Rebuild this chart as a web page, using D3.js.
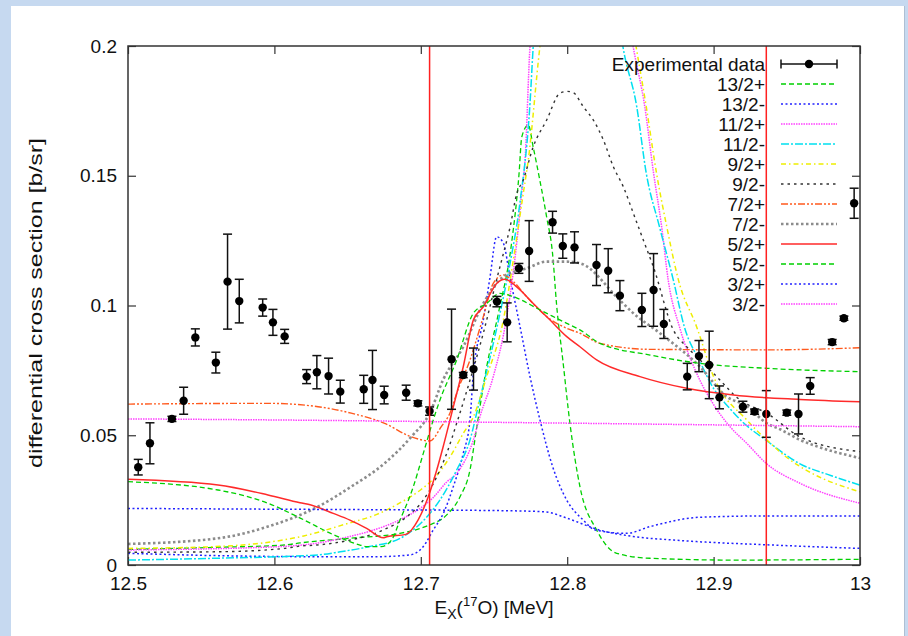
<!DOCTYPE html>
<html>
<head>
<meta charset="utf-8">
<script src="https://cdn.jsdelivr.net/npm/d3@7"></script>
<style>
  body { margin: 0; background: #c6d9f0; }
  text { font-family: "Liberation Sans", Arial, Helvetica, sans-serif; fill: #111; }
</style>
</head>
<body>
<div id="chart"></div>
<script>
const svgWidth = 908;
const svgHeight = 636;
const plot = {left: 128, right: 860, top: 46, bottom: 565};

// tick values
const xTicks = [12.5, 12.6, 12.7, 12.8, 12.9, 13];
const yTicks = [0, 0.05, 0.1, 0.15, 0.2];
const yTickLabels = ["0", "0.05", "0.1", "0.15", "0.2"];

// vertical red markers (MeV)
const redLines = [12.706, 12.936];

// experimental data
const expX = [12.507, 12.515, 12.530, 12.538, 12.546, 12.560, 12.568, 12.576, 12.592, 12.599,
              12.607, 12.622, 12.629, 12.637, 12.645, 12.661, 12.667, 12.675, 12.690, 12.698,
              12.706, 12.721, 12.729, 12.736, 12.752, 12.759, 12.767, 12.774, 12.790, 12.797,
              12.805, 12.820, 12.828, 12.836, 12.851, 12.859, 12.866, 12.882, 12.890, 12.897,
              12.904, 12.920, 12.928, 12.936, 12.950, 12.958, 12.966, 12.981, 12.989, 12.996];
const expY = [0.0377, 0.0469, 0.0563, 0.0633, 0.0877, 0.0780, 0.1092, 0.1017, 0.0992, 0.0935,
              0.0881, 0.0726, 0.0743, 0.0728, 0.0668, 0.0677, 0.0713, 0.0655, 0.0664, 0.0623,
              0.0593, 0.0793, 0.0732, 0.0755, 0.1015, 0.0935, 0.1143, 0.1210, 0.1321, 0.1229,
              0.1224, 0.1156, 0.1134, 0.1038, 0.0983, 0.1060, 0.0929, 0.0726, 0.0805, 0.0771,
              0.0646, 0.0610, 0.0591, 0.0582, 0.0587, 0.0582, 0.0690, 0.0859, 0.0951, 0.1394];
const expErr = [0.0030, 0.0079, 0.0010, 0.0052, 0.0033, 0.0040, 0.0183, 0.0084, 0.0033, 0.0050,
                0.0027, 0.0027, 0.0064, 0.0069, 0.0044, 0.0054, 0.0114, 0.0034, 0.0029, 0.0010,
                0.0016, 0.0193, 0.0010, 0.0081, 0.0020, 0.0075, 0.0019, 0.0117, 0.0042, 0.0047,
                0.0060, 0.0079, 0.0085, 0.0058, 0.0064, 0.0140, 0.0056, 0.0051, 0.0060, 0.0130,
                0.0044, 0.0021, 0.0010, 0.0090, 0.0010, 0.0077, 0.0032, 0.0010, 0.0008, 0.0058];

// calculated curves, [Ex, dsigma]
const c13p = [[12.5,0.006],[12.56,0.0068],[12.607,0.0077],[12.6175,0.0085],[12.6516,0.0103],[12.6858,0.0122],
  [12.704,0.015],[12.7177,0.0193],[12.7268,0.0263],[12.7336,0.0366],[12.7382,0.053],[12.745,0.0764],
  [12.753,0.097],[12.762,0.124],[12.767,0.15],[12.769,0.165],[12.7734,0.1696],[12.7768,0.161],
  [12.7814,0.148],[12.786,0.134],[12.79,0.12],[12.7928,0.1],[12.797,0.079],[12.802,0.054],
  [12.8087,0.0302],[12.8201,0.0135],[12.8338,0.0045],[12.8566,0.0026],[12.9135,0.0019],[13.0,0.0022]];
const c13m = [[12.5,0.0045],[12.5615,0.0036],[12.63,0.0032],[12.67,0.0032],[12.6926,0.0039],[12.7017,0.0071],
  [12.7085,0.0135],[12.7154,0.0199],[12.7222,0.0302],[12.729,0.043],[12.7336,0.0559],[12.7359,0.0739],
  [12.7427,0.0944],[12.7473,0.111],[12.7518,0.1265],[12.7564,0.124],[12.7609,0.111],[12.7678,0.0918],
  [12.7746,0.0726],[12.7814,0.0559],[12.79,0.038],[12.7997,0.025],[12.811,0.0173],[12.819,0.0135],
  [12.8406,0.0122],[12.8566,0.0148],[12.8907,0.0184],[12.9363,0.0189],[13.0,0.0189]];
const c11p = [[12.5,0.0058],[12.6,0.007],[12.63,0.0085],[12.65,0.0108],[12.665,0.013],[12.686,0.0175],
  [12.7,0.022],[12.7085,0.026],[12.7177,0.032],[12.7245,0.0353],[12.7359,0.0482],[12.7404,0.0572],
  [12.7495,0.0726],[12.7587,0.0957],[12.7655,0.124],[12.7689,0.1432],[12.7712,0.156],[12.7746,0.2],
  [12.79,0.27],[12.81,0.3],[12.83,0.26],[12.845,0.2],[12.853,0.1766],[12.859,0.151],[12.8645,0.1304],
  [12.869,0.1098],[12.877,0.0912],[12.8884,0.0739],[12.8998,0.062],[12.9112,0.0533],[12.9226,0.0469],
  [12.9363,0.039],[12.959,0.0315],[13.0,0.0238]];
const c11m = [[12.5,0.0019],[12.56,0.0026],[12.63,0.0039],[12.645,0.0051],[12.665,0.0071],[12.686,0.0103],
  [12.7,0.0161],[12.713,0.025],[12.7245,0.0366],[12.7336,0.0482],[12.7404,0.064],[12.7473,0.08],
  [12.7541,0.097],[12.7609,0.116],[12.7678,0.14],[12.7746,0.178],[12.7768,0.2],[12.79,0.26],
  [12.81,0.29],[12.825,0.26],[12.838,0.2],[12.8475,0.1766],[12.854,0.151],[12.863,0.1304],
  [12.8725,0.1098],[12.88,0.0918],[12.891,0.078],[12.9,0.068],[12.91,0.061],[12.92,0.055],
  [12.936,0.048],[12.959,0.039],[12.98,0.0345],[13.0,0.0308]];
const c9p = [[12.5,0.0064],[12.56,0.0071],[12.62,0.0112],[12.65,0.016],[12.67,0.0195],[12.686,0.024],
  [12.7,0.029],[12.71,0.034],[12.72,0.0417],[12.729,0.0507],[12.736,0.0572],[12.745,0.0726],
  [12.7564,0.0944],[12.7632,0.1175],[12.77,0.1432],[12.7734,0.156],[12.7814,0.2],[12.8,0.26],
  [12.815,0.29],[12.83,0.26],[12.847,0.2],[12.854,0.1766],[12.861,0.151],[12.868,0.1304],
  [12.876,0.1098],[12.8884,0.0918],[12.9,0.0726],[12.9226,0.0559],[12.9363,0.0482],[12.9522,0.0405],
  [12.965,0.036],[13.0,0.0282]];
const c9m = [[12.5,0.0049],[12.5615,0.0051],[12.607,0.0064],[12.6175,0.0073],[12.6289,0.0077],
  [12.6516,0.0096],[12.6744,0.0135],[12.6904,0.0186],[12.7017,0.025],[12.7109,0.034],[12.7177,0.043],
  [12.7245,0.0546],[12.734,0.072],[12.743,0.09],[12.7518,0.11],[12.7564,0.12],[12.7609,0.13],
  [12.7655,0.143],[12.77,0.1484],[12.7768,0.1612],[12.786,0.1715],[12.795,0.1818],[12.8,0.1825],
  [12.8042,0.182],[12.811,0.1766],[12.8178,0.1715],[12.8247,0.1638],[12.8315,0.1535],[12.8383,0.1458],
  [12.8452,0.1355],[12.852,0.1252],[12.8588,0.115],[12.8725,0.0906],[12.8816,0.0841],[12.8907,0.079],
  [12.9021,0.0726],[12.918,0.0636],[12.9363,0.0585],[12.959,0.0494],[13.0,0.0437]];
const c7p = [[12.5,0.062],[12.5956,0.0623],[12.6298,0.061],[12.6525,0.0585],[12.6753,0.0546],
  [12.6935,0.0494],[12.7061,0.0478],[12.714,0.0533],[12.7208,0.0597],[12.7245,0.0662],[12.7336,0.079],
  [12.7427,0.0957],[12.7495,0.1085],[12.7564,0.1118],[12.7632,0.1092],[12.7723,0.1034],[12.786,0.0957],
  [12.7997,0.0912],[12.8087,0.0893],[12.8224,0.0854],[12.8566,0.0831],[12.9363,0.0829],[13.0,0.0837]];
const c7m = [[12.5,0.0081],[12.5615,0.0103],[12.5956,0.0148],[12.6298,0.0225],[12.6525,0.0302],
  [12.6753,0.0392],[12.6935,0.0494],[12.7061,0.0585],[12.7152,0.0713],[12.729,0.0841],[12.7427,0.1008],
  [12.7564,0.1111],[12.7723,0.1143],[12.786,0.1169],[12.7997,0.1169],[12.8087,0.1163],[12.836,0.102],
  [12.8452,0.097],[12.8634,0.0893],[12.8907,0.0764],[12.9089,0.0649],[12.9226,0.0613],[12.9363,0.0546],
  [12.9454,0.0523],[12.959,0.0482],[12.9681,0.0462],[13.0,0.0412]];
const c5p = [[12.5,0.033],[12.5615,0.0308],[12.5956,0.027],[12.6175,0.024],[12.625,0.0231],[12.6402,0.0199],
  [12.6516,0.0173],[12.663,0.0141],[12.6744,0.0105],[12.6767,0.0109],[12.6898,0.0118],[12.6983,0.0175],
  [12.7051,0.0263],[12.7109,0.0366],[12.715,0.045],[12.7208,0.0578],[12.729,0.0764],[12.7359,0.0944],
  [12.7427,0.0995],[12.7518,0.1085],[12.7575,0.1101],[12.7655,0.1072],[12.7768,0.1008],[12.7883,0.0944],
  [12.7997,0.088],[12.8087,0.0841],[12.8201,0.079],[12.8497,0.0726],[12.8816,0.0681],[12.9135,0.0655],
  [12.959,0.0638],[13.0,0.0629]];
const c5m = [[12.5,0.0321],[12.5615,0.0289],[12.5956,0.0238],[12.618,0.018],[12.641,0.0115],[12.6585,0.0077],
  [12.663,0.0071],[12.673,0.0071],[12.68,0.0096],[12.6858,0.0173],[12.6949,0.0302],[12.7017,0.043],
  [12.7085,0.0559],[12.7131,0.0636],[12.7245,0.079],[12.7359,0.097],[12.745,0.1008],[12.7541,0.1047],
  [12.7632,0.1034],[12.7814,0.0983],[12.7997,0.0931],[12.8087,0.0906],[12.8224,0.0854],[12.8566,0.0809],
  [12.8907,0.0777],[12.9363,0.0758],[13.0,0.0745]];
const c3p = [[12.5,0.0218],[12.6,0.0215],[12.7,0.0212],[12.76,0.0209],[12.785,0.0205],[12.8,0.018],
  [12.822,0.0135],[12.845,0.011],[12.873,0.0096],[12.94,0.0077],[13.0,0.0064]];
const c3m = [[12.5,0.0563],[12.6,0.0559],[12.7,0.0553],[12.78,0.0548],[12.9,0.054],[13.0,0.0533]];

const legendLabels = ["13/2+","13/2-","11/2+","11/2-","9/2+","9/2-","7/2+","7/2-","5/2+","5/2-","3/2+","3/2-"];
const curveData = [c13p, c13m, c11p, c11m, c9p, c9m, c7p, c7m, c5p, c5m, c3p, c3m];

// gnuplot-like line styles, one per curve
const styles = [
  {color:"#00d000", dash:"5,3", w:1.3},
  {color:"#2222ff", dash:"2,2.5", w:1.5},
  {color:"#ff40ff", dash:"1.5,1", w:1.5},
  {color:"#00e0f0", dash:"8,2,2,2", w:1.5},
  {color:"#eeee00", dash:"5,3,1.5,3", w:1.5},
  {color:"#333333", dash:"2.5,4", w:1.4},
  {color:"#ff5a1e", dash:"7,2,2,2,2,2", w:1.4},
  {color:"#8c8c8c", dash:"2.5,2.5", w:2.6},
  {color:"#ff2a2a", dash:null, w:1.5},
  {color:"#00d000", dash:"5,3", w:1.3},
  {color:"#2222ff", dash:"2,2.5", w:1.5},
  {color:"#ff40ff", dash:"1.5,1", w:1.5}
];

drawChart();

function drawChart(){
    const svg = d3.select("#chart")
                  .append("svg")
                  .attr("width", svgWidth)
                  .attr("height", svgHeight)
                  .style("display", "block");

    // white panel on the blue page
    svg.append("rect")
        .attr("x", 11).attr("y", 6)
        .attr("width", 893).attr("height", svgHeight - 6)
        .attr("fill", "#fff");
    svg.append("line")
        .attr("x1", 904.5).attr("x2", 904.5).attr("y1", 6).attr("y2", svgHeight)
        .attr("stroke", "#aebfd3");

    const xscale = d3.scaleLinear().domain([12.5, 13]).range([plot.left, plot.right]);
    const yscale = d3.scaleLinear().domain([0, 0.2]).range([plot.bottom, plot.top]);

    svg.append("clipPath").attr("id", "clip")
        .append("rect")
        .attr("x", plot.left).attr("y", plot.top)
        .attr("width", plot.right - plot.left).attr("height", plot.bottom - plot.top);

    // axes with inward ticks, mirrored on top and right
    const xaxis = d3.axisBottom(xscale).tickValues(xTicks)
                    .tickFormat(d3.format("")).tickSizeInner(-8).tickSizeOuter(0).tickPadding(12);
    const yaxis = d3.axisLeft(yscale).tickValues(yTicks)
                    .tickFormat((d, i) => yTickLabels[i]).tickSizeInner(-8).tickSizeOuter(0).tickPadding(11);

    const gx = svg.append("g").attr("transform", "translate(0," + plot.bottom + ")").call(xaxis);
    const gy = svg.append("g").attr("transform", "translate(" + plot.left + ",0)").call(yaxis);
    const gxt = svg.append("g").attr("transform", "translate(0," + plot.top + ")")
                   .call(d3.axisTop(xscale).tickValues(xTicks).tickFormat("").tickSizeInner(-8).tickSizeOuter(0));
    const gyr = svg.append("g").attr("transform", "translate(" + plot.right + ",0)")
                   .call(d3.axisRight(yscale).tickValues(yTicks).tickFormat("").tickSizeInner(-8).tickSizeOuter(0));

    [gx, gy, gxt, gyr].forEach(function(g){
        g.select(".domain").remove();
        g.selectAll(".tick line").attr("stroke", "#333").attr("stroke-width", 1.2);
        g.selectAll(".tick text").attr("font-size", 19).attr("fill", "#111")
         .style("font-family", "'Liberation Sans', Arial, sans-serif");
    });

    // curves
    const line = d3.line()
                   .x(function(d){ return xscale(d[0]); })
                   .y(function(d){ return yscale(d[1]); })
                   .curve(d3.curveMonotoneX);

    const curves = svg.append("g").attr("clip-path", "url(#clip)");
    curveData.forEach(function(data, i){
        curves.append("path")
            .datum(data)
            .attr("d", line)
            .attr("fill", "none")
            .attr("stroke", styles[i].color)
            .attr("stroke-width", styles[i].w)
            .attr("stroke-dasharray", styles[i].dash);
    });

    // experimental points with error bars
    const pts = svg.append("g");
    expX.forEach(function(x, i){
        const cx = xscale(x);
        const y1 = yscale(expY[i] - expErr[i]);
        const y2 = yscale(expY[i] + expErr[i]);
        pts.append("line").attr("x1", cx).attr("x2", cx).attr("y1", y1).attr("y2", y2)
            .attr("stroke", "#111").attr("stroke-width", 1.5);
        [y1, y2].forEach(function(yy){
            pts.append("line").attr("x1", cx - 4.5).attr("x2", cx + 4.5).attr("y1", yy).attr("y2", yy)
                .attr("stroke", "#111").attr("stroke-width", 1.5);
        });
        pts.append("circle").attr("cx", cx).attr("cy", yscale(expY[i])).attr("r", 4.2).attr("fill", "#000");
    });

    // legend
    const leg = svg.append("g");
    const legTextX = 765, legX1 = 781, legX2 = 837, legY0 = 64, legStep = 20;
    leg.append("text").attr("x", legTextX).attr("y", legY0 + 6.5)
        .attr("text-anchor", "end").attr("font-size", 19).text("Experimental data");
    leg.append("line").attr("x1", legX1).attr("x2", legX2).attr("y1", legY0).attr("y2", legY0)
        .attr("stroke", "#111").attr("stroke-width", 1.5);
    [legX1, legX2].forEach(function(xx){
        leg.append("line").attr("x1", xx).attr("x2", xx).attr("y1", legY0 - 4.5).attr("y2", legY0 + 4.5)
            .attr("stroke", "#111").attr("stroke-width", 1.5);
    });
    leg.append("circle").attr("cx", (legX1 + legX2) / 2).attr("cy", legY0).attr("r", 4.2).attr("fill", "#000");

    legendLabels.forEach(function(lab, i){
        const yy = legY0 + legStep * (i + 1);
        leg.append("text").attr("x", legTextX).attr("y", yy + 6.5)
            .attr("text-anchor", "end").attr("font-size", 19).text(lab);
        leg.append("line").attr("x1", legX1).attr("x2", legX2).attr("y1", yy).attr("y2", yy)
            .attr("stroke", styles[i].color)
            .attr("stroke-width", styles[i].w)
            .attr("stroke-dasharray", styles[i].dash);
    });

    // red markers
    redLines.forEach(function(v){
        svg.append("line")
            .attr("x1", xscale(v)).attr("x2", xscale(v))
            .attr("y1", plot.top).attr("y2", plot.bottom)
            .attr("stroke", "#ff2020").attr("stroke-width", 1.5);
    });

    // frame
    svg.append("rect")
        .attr("x", plot.left).attr("y", plot.top)
        .attr("width", plot.right - plot.left).attr("height", plot.bottom - plot.top)
        .attr("fill", "none").attr("stroke", "#333").attr("stroke-width", 1.5);

    // axis labels
    svg.append("text")
        .attr("transform", "translate(42,303)rotate(-90)")
        .attr("text-anchor", "middle").attr("font-size", 18)
        .attr("textLength", 330).attr("lengthAdjust", "spacingAndGlyphs")
        .text("differential cross section [b/sr]");

    const xl = svg.append("text")
        .attr("x", 494).attr("y", 614)
        .attr("text-anchor", "middle").attr("font-size", 19);
    xl.append("tspan").text("E");
    xl.append("tspan").attr("font-size", 14).attr("dy", 5).text("X");
    xl.append("tspan").attr("dy", -5).text("(");
    xl.append("tspan").attr("font-size", 13).attr("dy", -8).text("17");
    xl.append("tspan").attr("dy", 8).text("O) [MeV]");
}
</script>
</body>
</html>
